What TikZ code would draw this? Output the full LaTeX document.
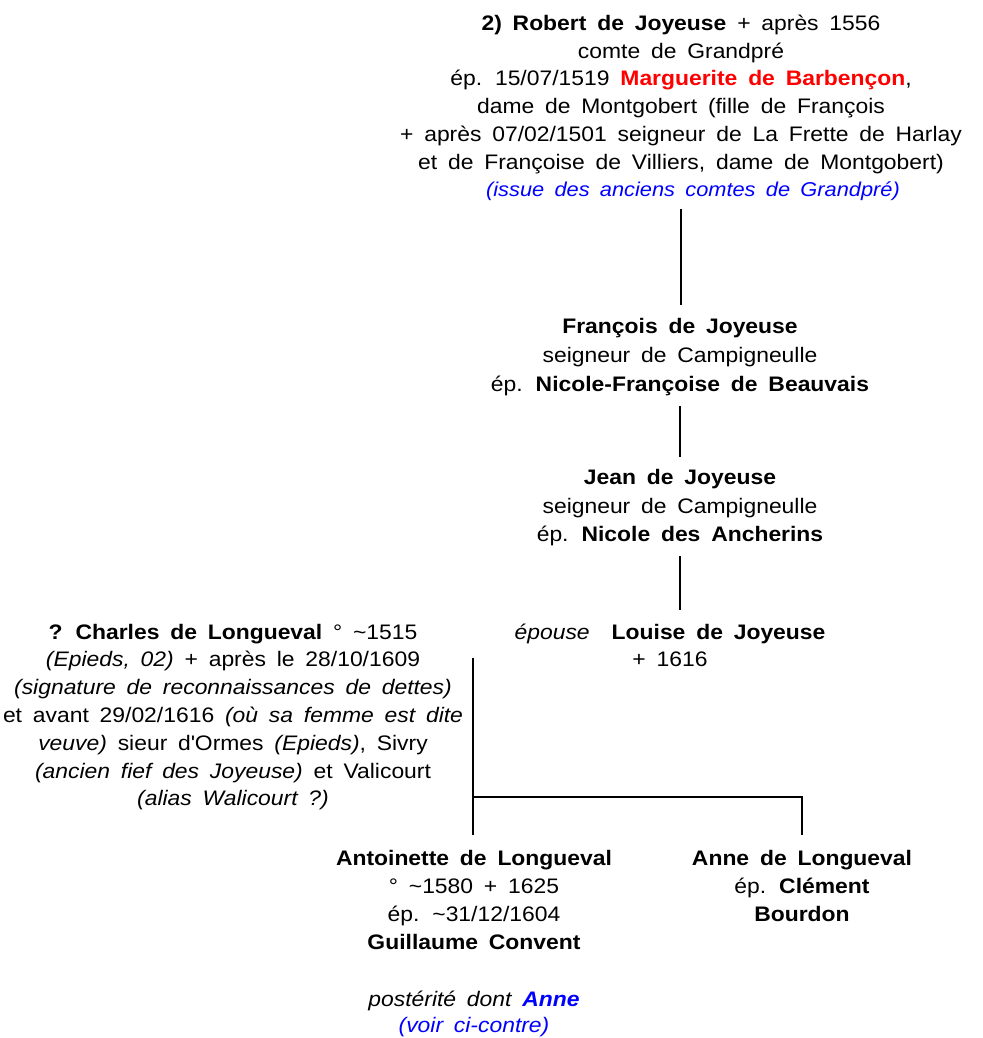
\documentclass[tikz,border=0pt]{standalone}
\usepackage{fontspec}
\setmainfont[FakeStretch=1.09, WordSpace=1.7]{Liberation Sans}
\usetikzlibrary{positioning}
\definecolor{rouge}{RGB}{255,0,0}
\definecolor{bleu}{RGB}{0,0,255}
\newcommand{\tld}{\textasciitilde}
\tikzset{
  personne/.style={align=center, inner sep=0pt, font=\fontsize{21}{28}\selectfont},
  trait/.style={line width=2pt},
}
\begin{document}
\begin{tikzpicture}[x=1pt,y=-1pt]
\useasboundingbox (0,0) rectangle (982,1038);

% branche Joyeuse
\node[personne, font=\fontsize{21}{27.7}\selectfont] (robert) at (681,108) {\textbf{2) Robert de Joyeuse} + après 1556\\
  comte de Grandpré\\
  ép. 15/07/1519 \textcolor{rouge}{\textbf{Marguerite de Barbençon}},\\
  dame de Montgobert (fille de François\\
  + après 07/02/1501 seigneur de La Frette de Harlay\\
  et de Françoise de Villiers, dame de Montgobert)\\
  \hspace{24pt}\textcolor{bleu}{\fontsize{20}{20}\selectfont\textit{(issue des anciens comtes de Grandpré)}}};
\node[personne, font=\fontsize{21}{29}\selectfont] (francois) at (680,357) {\textbf{François de Joyeuse}\\
  seigneur de Campigneulle\\
  ép. \textbf{Nicole-Françoise de Beauvais}};
\node[personne, font=\fontsize{21}{28.5}\selectfont] (jean) at (680,508) {\textbf{Jean de Joyeuse}\\
  seigneur de Campigneulle\\
  ép. \textbf{Nicole des Ancherins}};
\node[personne, font=\fontsize{21}{27}\selectfont] (louise) at (670,645) {\textit{épouse}\hspace{22pt}\textbf{Louise de Joyeuse}\\
  + 1616};

% branche Longueval
\node[personne, font=\fontsize{21}{27.8}\selectfont] (charles) at (233,717)
  {\textbf{? Charles de Longueval} ° \tld1515\\
  \textit{(Epieds, 02)} + après le 28/10/1609\\
  \textit{(signature de reconnaissances de dettes)}\\
  et avant 29/02/1616 \textit{(où sa femme est dite}\\
  \textit{veuve)} sieur d\textquotesingle Ormes \textit{(Epieds)}, Sivry\\
  \textit{(ancien fief des Joyeuse)} et Valicourt\\
  \textit{(alias Walicourt ?)}};
\node[personne] (antoinette) at (474,900) {\textbf{Antoinette de Longueval}\\
  ° \tld1580 + 1625\\
  ép. \tld31/12/1604\\
  \textbf{Guillaume Convent}};
\node[personne, font=\fontsize{21}{26}\selectfont] (posterite) at (474,1014)
  {\textit{postérité dont \textcolor{bleu}{\textbf{Anne}}}\\
  \textcolor{bleu}{\textit{(voir ci-contre)}}};
\node[personne] (anne) at (802,886) {\textbf{Anne de Longueval}\\
  ép. \textbf{Clément}\\
  \textbf{Bourdon}};

\coordinate (couple) at (473,658);
\coordinate (fourche) at (473,797);

% liens
\draw[trait, shorten <=8pt, shorten >=13pt] (robert.south) -- (robert.south |- francois.north);
\draw[trait, shorten <=10pt, shorten >=13pt] (francois.south) -- (francois.south |- jean.north);
\draw[trait, shorten <=10pt, shorten >=13pt] (jean.south) -- (jean.south |- louise.north);
\draw[trait, shorten >=15pt] (couple) -- (couple |- antoinette.north);
\draw[trait, shorten >=15pt] (fourche) -| (anne.north);
\end{tikzpicture}
\end{document}
